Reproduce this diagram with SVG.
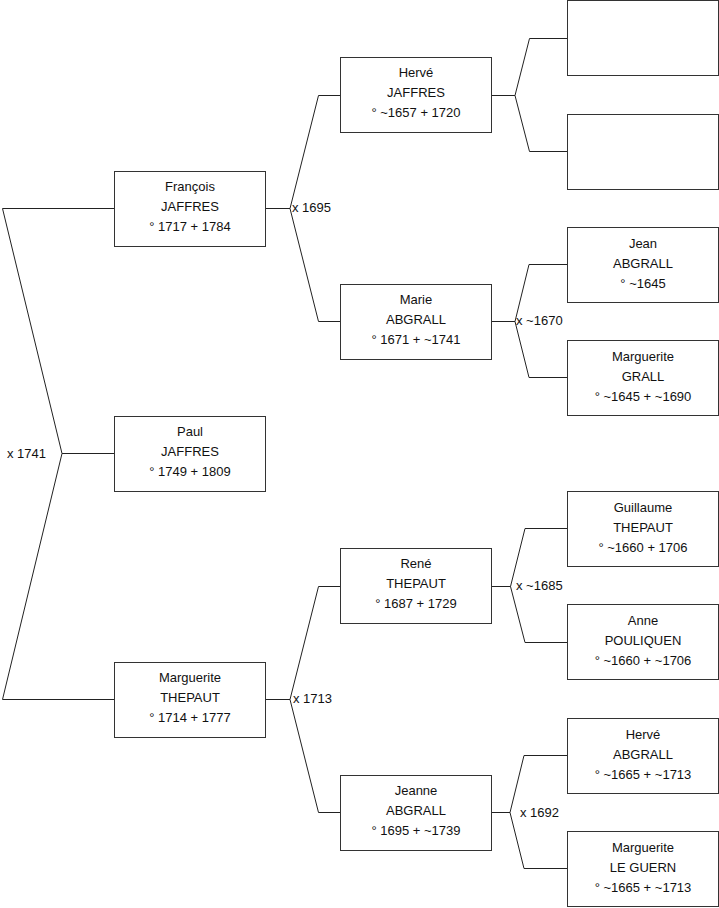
<svg xmlns="http://www.w3.org/2000/svg" width="719" height="908" viewBox="0 0 719 908">
<style>
.box{fill:#fff;stroke:#333;stroke-width:1}
.t{font-family:"Liberation Sans",Arial,sans-serif;font-size:13px;fill:#111;text-anchor:middle}
.l{font-family:"Liberation Sans",Arial,sans-serif;font-size:13px;fill:#111}
.c{fill:none;stroke:#222;stroke-width:1}
</style>
<rect width="719" height="908" fill="#fff"/>
<g id="connectors">
<path class="c" d="M114,208.5 H2.5 L62,453.5 L2.5,699.5 H114 M62,453.5 H114"/>
<path class="c" d="M265.5,208.5 H290 M341,95.5 H318.5 L290,208.5 L318.5,321.5 H341"/>
<path class="c" d="M265.5,699.5 H290 M341,586.5 H318.5 L290,699.5 L318.5,812.5 H341"/>
<path class="c" d="M491.5,95.5 H515 M567,38.5 H529.5 L515,95.5 L529.5,151.5 H567"/>
<path class="c" d="M491.5,321.5 H515 M567,264.5 H529 L515,321.5 L529,377.5 H567"/>
<path class="c" d="M491.5,586.5 H510.5 M567,528.5 H525 L510.5,586.5 L525,642.5 H567"/>
<path class="c" d="M491.5,812.5 H510 M567,755.5 H524 L510,812.5 L524,868.5 H567"/>
<text class="l" x="7" y="457.5">x 1741</text>
<text class="l" x="292" y="212">x 1695</text>
<text class="l" x="516" y="325">x ~1670</text>
<text class="l" x="293" y="703">x 1713</text>
<text class="l" x="516" y="590">x ~1685</text>
<text class="l" x="520" y="816.5">x 1692</text>
</g>
<g id="francois"><rect class="box" x="114.5" y="171.5" width="151" height="75"/>
<text class="t" x="190" y="191">François</text><text class="t" x="190" y="211">JAFFRES</text><text class="t" x="190" y="231">° 1717 + 1784</text></g>
<g id="paul"><rect class="box" x="114.5" y="416.5" width="151" height="75"/>
<text class="t" x="190" y="436">Paul</text><text class="t" x="190" y="456">JAFFRES</text><text class="t" x="190" y="476">° 1749 + 1809</text></g>
<g id="marguerite-thepaut"><rect class="box" x="114.5" y="662.5" width="151" height="75"/>
<text class="t" x="190" y="682">Marguerite</text><text class="t" x="190" y="702">THEPAUT</text><text class="t" x="190" y="722">° 1714 + 1777</text></g>
<g id="herve-jaffres"><rect class="box" x="340.5" y="57.5" width="151" height="75"/>
<text class="t" x="416" y="77">Hervé</text><text class="t" x="416" y="97">JAFFRES</text><text class="t" x="416" y="117">° ~1657 + 1720</text></g>
<g id="marie-abgrall"><rect class="box" x="340.5" y="284.5" width="151" height="75"/>
<text class="t" x="416" y="304">Marie</text><text class="t" x="416" y="324">ABGRALL</text><text class="t" x="416" y="344">° 1671 + ~1741</text></g>
<g id="rene-thepaut"><rect class="box" x="340.5" y="548.5" width="151" height="75"/>
<text class="t" x="416" y="568">René</text><text class="t" x="416" y="588">THEPAUT</text><text class="t" x="416" y="608">° 1687 + 1729</text></g>
<g id="jeanne-abgrall"><rect class="box" x="340.5" y="775.5" width="151" height="75"/>
<text class="t" x="416" y="795">Jeanne</text><text class="t" x="416" y="815">ABGRALL</text><text class="t" x="416" y="835">° 1695 + ~1739</text></g>
<g id="unknown-1"><rect class="box" x="567.5" y="0.5" width="151" height="75"/></g>
<g id="unknown-2"><rect class="box" x="567.5" y="114.5" width="151" height="75"/></g>
<g id="jean-abgrall"><rect class="box" x="567.5" y="227.5" width="151" height="75"/>
<text class="t" x="643" y="247.5">Jean</text><text class="t" x="643" y="267.5">ABGRALL</text><text class="t" x="643" y="287.5">° ~1645</text></g>
<g id="marguerite-grall"><rect class="box" x="567.5" y="340.5" width="151" height="75"/>
<text class="t" x="643" y="360.5">Marguerite</text><text class="t" x="643" y="380.5">GRALL</text><text class="t" x="643" y="400.5">° ~1645 + ~1690</text></g>
<g id="guillaume-thepaut"><rect class="box" x="567.5" y="491.5" width="151" height="75"/>
<text class="t" x="643" y="511.5">Guillaume</text><text class="t" x="643" y="531.5">THEPAUT</text><text class="t" x="643" y="551.5">° ~1660 + 1706</text></g>
<g id="anne-pouliquen"><rect class="box" x="567.5" y="604.5" width="151" height="75"/>
<text class="t" x="643" y="624.5">Anne</text><text class="t" x="643" y="644.5">POULIQUEN</text><text class="t" x="643" y="664.5">° ~1660 + ~1706</text></g>
<g id="herve-abgrall"><rect class="box" x="567.5" y="718.5" width="151" height="75"/>
<text class="t" x="643" y="738.5">Hervé</text><text class="t" x="643" y="758.5">ABGRALL</text><text class="t" x="643" y="778.5">° ~1665 + ~1713</text></g>
<g id="marguerite-le-guern"><rect class="box" x="567.5" y="831.5" width="151" height="75"/>
<text class="t" x="643" y="851.5">Marguerite</text><text class="t" x="643" y="871.5">LE GUERN</text><text class="t" x="643" y="891.5">° ~1665 + ~1713</text></g>
</svg>
